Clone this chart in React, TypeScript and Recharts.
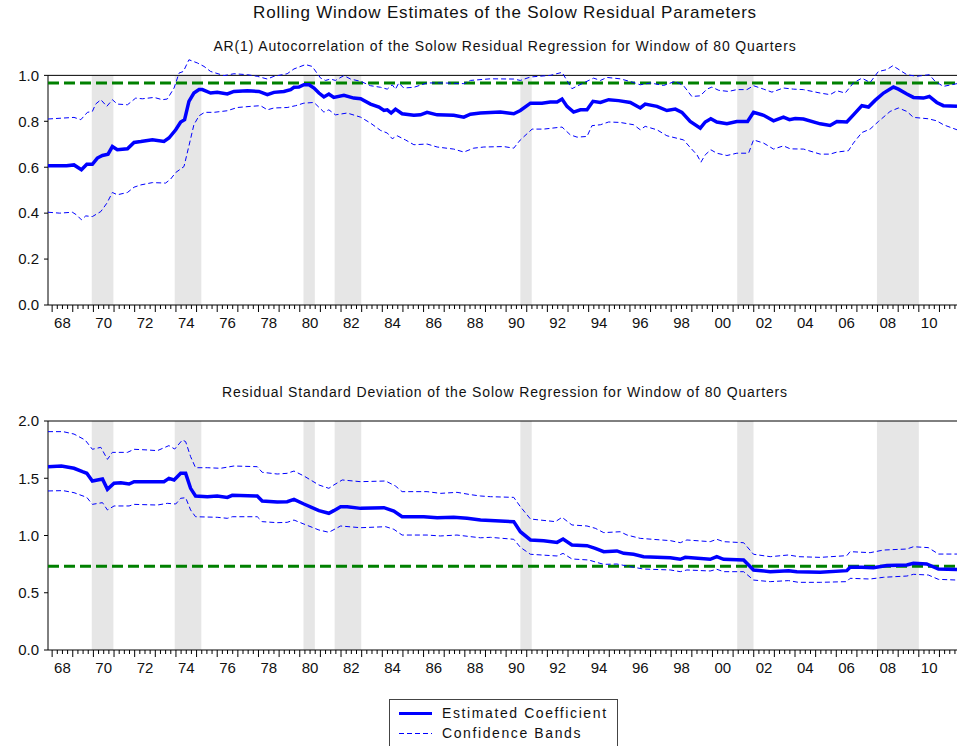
import { Line, LineChart, ReferenceArea, ReferenceLine, XAxis, YAxis } from "recharts";

const FONT = '"Liberation Sans", Arial, sans-serif';
const BLUE = "#0000ff";
const GREEN = "#008000";

const X_MIN = 1967.8;
const X_MAX = 2011.85;

// labelled years (shown as two digits, centred on mid-year)
const labelYears = [
  1968, 1970, 1972, 1974, 1976, 1978, 1980, 1982, 1984, 1986, 1988, 1990,
  1992, 1994, 1996, 1998, 2000, 2002, 2004, 2006, 2008, 2010,
];

// shaded recession periods [start, end]
const recessions: [number, number][] = [
  [1969.92, 1970.97],
  [1973.94, 1975.23],
  [1980.18, 1980.73],
  [1981.69, 1982.98],
  [1990.69, 1991.24],
  [2001.2, 2001.99],
  [2007.97, 2010.0],
];

// AR(1) coefficient panel
const arEst: [number, number][] = [
  [1967.8, 0.606], [1968.7, 0.606], [1969.06, 0.61], [1969.42, 0.589], [1969.68, 0.613], [1969.95, 0.613],
  [1970.19, 0.64], [1970.44, 0.651], [1970.71, 0.657], [1970.92, 0.69], [1971.16, 0.676], [1971.65, 0.68],
  [1971.97, 0.708], [1972.3, 0.712], [1972.86, 0.72], [1973.42, 0.712], [1973.66, 0.727], [1973.99, 0.763],
  [1974.23, 0.797], [1974.42, 0.807], [1974.63, 0.887], [1974.87, 0.923], [1975.12, 0.938], [1975.28, 0.938],
  [1975.68, 0.923], [1976.0, 0.926], [1976.49, 0.919], [1976.81, 0.93], [1977.46, 0.933], [1978.02, 0.93],
  [1978.43, 0.916], [1978.75, 0.926], [1979.23, 0.93], [1979.56, 0.938], [1979.72, 0.948], [1979.96, 0.949],
  [1980.2, 0.959], [1980.45, 0.959], [1980.69, 0.945], [1980.93, 0.923], [1981.17, 0.906], [1981.41, 0.919],
  [1981.65, 0.904], [1982.14, 0.913], [1982.62, 0.901], [1982.95, 0.898], [1983.43, 0.875], [1983.84, 0.862],
  [1984.08, 0.847], [1984.24, 0.85], [1984.43, 0.836], [1984.64, 0.853], [1984.96, 0.833], [1985.53, 0.826],
  [1985.85, 0.828], [1986.17, 0.839], [1986.66, 0.828], [1987.46, 0.826], [1987.95, 0.818], [1988.27, 0.831],
  [1988.75, 0.836], [1989.72, 0.84], [1990.37, 0.833], [1990.69, 0.847], [1991.18, 0.879], [1991.74, 0.879],
  [1992.14, 0.884], [1992.47, 0.884], [1992.71, 0.897], [1992.95, 0.865], [1993.27, 0.84], [1993.6, 0.85],
  [1993.92, 0.85], [1994.21, 0.887], [1994.57, 0.882], [1994.97, 0.894], [1995.45, 0.89], [1996.02, 0.882],
  [1996.5, 0.858], [1996.74, 0.875], [1997.31, 0.865], [1997.79, 0.847], [1998.2, 0.853], [1998.52, 0.839],
  [1998.92, 0.799], [1999.41, 0.77], [1999.65, 0.797], [1999.92, 0.811], [2000.21, 0.797], [2000.7, 0.789],
  [2001.18, 0.799], [2001.7, 0.799], [2001.99, 0.839], [2002.48, 0.826], [2002.96, 0.802], [2003.44, 0.818],
  [2003.73, 0.807], [2004.01, 0.812], [2004.41, 0.81], [2005.22, 0.789], [2005.7, 0.782], [2006.03, 0.799],
  [2006.51, 0.797], [2006.83, 0.828], [2007.24, 0.868], [2007.56, 0.862], [2007.88, 0.891], [2008.29, 0.923],
  [2008.77, 0.949], [2009.01, 0.94], [2009.42, 0.919], [2009.74, 0.904], [2010.22, 0.901], [2010.51, 0.908],
  [2010.87, 0.882], [2011.19, 0.868], [2011.85, 0.865],
];

const arHi: [number, number][] = [
  [1967.8, 0.81], [1969.06, 0.817], [1969.39, 0.807], [1969.71, 0.839], [1969.95, 0.843], [1970.11, 0.875],
  [1970.36, 0.894], [1970.65, 0.865], [1970.92, 0.894], [1971.16, 0.875], [1971.65, 0.872], [1972.05, 0.901],
  [1972.37, 0.898], [1972.94, 0.904], [1973.34, 0.894], [1973.58, 0.897], [1973.91, 0.945], [1974.15, 1.01],
  [1974.36, 1.017], [1974.63, 1.068], [1975.04, 1.054], [1975.36, 1.039], [1975.68, 1.017], [1976.33, 0.999],
  [1976.81, 1.007], [1977.46, 1.003], [1977.94, 0.996], [1978.43, 0.984], [1978.75, 0.996], [1979.39, 1.007],
  [1979.72, 1.028], [1980.28, 1.047], [1980.6, 1.039], [1981.01, 0.988], [1981.25, 0.978], [1981.49, 0.984],
  [1981.73, 0.978], [1982.14, 0.999], [1982.46, 0.984], [1982.95, 0.974], [1983.43, 0.955], [1983.92, 0.948],
  [1984.24, 0.94], [1984.48, 0.959], [1984.64, 0.94], [1984.8, 0.967], [1985.04, 0.945], [1985.53, 0.948],
  [1986.17, 0.967], [1986.98, 0.967], [1987.95, 0.964], [1988.27, 0.978], [1989.24, 0.985], [1990.37, 0.984],
  [1990.69, 0.978], [1991.18, 0.993], [1992.14, 1.0], [1992.71, 1.013], [1993.19, 0.942], [1993.68, 0.964],
  [1994.24, 0.988], [1994.57, 0.978], [1994.89, 0.991], [1995.53, 0.985], [1996.18, 0.969], [1996.5, 0.959],
  [1996.99, 0.967], [1997.63, 0.956], [1998.2, 0.974], [1998.6, 0.955], [1999.0, 0.908], [1999.41, 0.911],
  [1999.73, 0.94], [1999.97, 0.949], [2000.3, 0.935], [2000.78, 0.93], [2001.18, 0.938], [2001.67, 0.938],
  [2001.99, 0.955], [2002.48, 0.94], [2002.88, 0.927], [2003.44, 0.945], [2003.93, 0.94], [2004.41, 0.938],
  [2005.22, 0.923], [2005.7, 0.916], [2006.03, 0.933], [2006.43, 0.923], [2006.83, 0.967], [2007.24, 0.988],
  [2007.64, 0.969], [2008.04, 1.017], [2008.45, 1.025], [2008.74, 1.042], [2009.09, 1.022], [2009.42, 1.003],
  [2009.9, 0.996], [2010.51, 1.003], [2010.79, 0.974], [2011.19, 0.952], [2011.85, 0.964],
];

const arLo: [number, number][] = [
  [1967.8, 0.404], [1968.37, 0.4], [1968.98, 0.404], [1969.19, 0.392], [1969.42, 0.371], [1969.63, 0.388],
  [1969.95, 0.385], [1970.36, 0.407], [1970.65, 0.443], [1970.92, 0.49], [1971.16, 0.48], [1971.65, 0.49],
  [1971.97, 0.513], [1972.3, 0.523], [1972.86, 0.533], [1973.5, 0.531], [1973.74, 0.548], [1973.99, 0.577],
  [1974.39, 0.603], [1974.63, 0.693], [1974.87, 0.785], [1975.12, 0.824], [1975.39, 0.839], [1975.84, 0.839],
  [1976.49, 0.846], [1976.97, 0.86], [1977.62, 0.865], [1978.1, 0.868], [1978.43, 0.85], [1978.75, 0.858],
  [1979.39, 0.86], [1979.8, 0.868], [1980.2, 0.879], [1980.69, 0.882], [1981.17, 0.84], [1981.41, 0.85],
  [1981.73, 0.828], [1982.3, 0.836], [1982.95, 0.818], [1983.43, 0.792], [1983.92, 0.76], [1984.24, 0.749],
  [1984.48, 0.724], [1984.72, 0.737], [1985.12, 0.719], [1985.53, 0.698], [1986.17, 0.701], [1986.66, 0.688],
  [1987.46, 0.679], [1987.95, 0.666], [1988.43, 0.683], [1988.92, 0.688], [1989.88, 0.69], [1990.37, 0.683],
  [1990.69, 0.719], [1991.26, 0.766], [1991.82, 0.766], [1992.71, 0.775], [1993.11, 0.741], [1993.44, 0.731],
  [1993.92, 0.734], [1994.16, 0.781], [1994.57, 0.785], [1994.97, 0.797], [1995.53, 0.795], [1996.18, 0.785],
  [1996.5, 0.763], [1996.74, 0.778], [1997.31, 0.763], [1997.79, 0.737], [1998.6, 0.719], [1998.92, 0.686],
  [1999.25, 0.654], [1999.44, 0.622], [1999.65, 0.654], [1999.92, 0.676], [2000.21, 0.661], [2000.7, 0.651],
  [2001.18, 0.661], [2001.75, 0.661], [2001.99, 0.719], [2002.48, 0.705], [2002.96, 0.679], [2003.44, 0.693],
  [2003.77, 0.68], [2004.41, 0.679], [2005.22, 0.657], [2005.7, 0.657], [2006.03, 0.666], [2006.59, 0.672],
  [2006.83, 0.705], [2007.24, 0.751], [2007.64, 0.766], [2008.04, 0.799], [2008.61, 0.843], [2009.01, 0.858],
  [2009.42, 0.843], [2009.74, 0.817], [2010.46, 0.811], [2010.87, 0.802], [2011.19, 0.785], [2011.85, 0.763],
];

// residual standard deviation panel
const sdEst: [number, number][] = [
  [1967.8, 1.601], [1968.45, 1.607], [1969.06, 1.587], [1969.47, 1.557], [1969.68, 1.543], [1969.95, 1.476],
  [1970.44, 1.493], [1970.68, 1.403], [1971.0, 1.456], [1971.33, 1.461], [1971.73, 1.45], [1971.97, 1.47],
  [1973.1, 1.47], [1973.42, 1.47], [1973.66, 1.499], [1973.91, 1.485], [1974.23, 1.543], [1974.47, 1.543],
  [1974.71, 1.412], [1974.95, 1.345], [1975.52, 1.339], [1976.0, 1.345], [1976.49, 1.333], [1976.73, 1.351],
  [1977.94, 1.345], [1978.18, 1.301], [1978.91, 1.293], [1979.39, 1.295], [1979.72, 1.316], [1980.2, 1.275],
  [1980.93, 1.217], [1981.41, 1.194], [1981.65, 1.217], [1981.98, 1.252], [1982.3, 1.252], [1982.95, 1.237],
  [1984.08, 1.243], [1984.56, 1.214], [1984.96, 1.164], [1986.01, 1.164], [1986.66, 1.156], [1987.46, 1.159],
  [1988.11, 1.15], [1988.76, 1.135], [1989.24, 1.13], [1990.37, 1.121], [1990.69, 1.033], [1991.18, 0.961],
  [1991.82, 0.955], [1992.47, 0.94], [1992.76, 0.969], [1993.19, 0.917], [1993.92, 0.911], [1994.32, 0.888],
  [1994.73, 0.859], [1995.37, 0.865], [1995.7, 0.844], [1996.18, 0.836], [1996.66, 0.815], [1997.96, 0.806],
  [1998.44, 0.792], [1998.68, 0.809], [1999.89, 0.792], [2000.21, 0.815], [2000.54, 0.792], [2001.51, 0.786],
  [2001.99, 0.699], [2002.8, 0.684], [2003.69, 0.693], [2004.09, 0.684], [2005.22, 0.678], [2006.51, 0.693],
  [2006.67, 0.722], [2007.24, 0.722], [2007.8, 0.719], [2008.45, 0.737], [2009.42, 0.742], [2009.74, 0.757],
  [2010.38, 0.751], [2010.95, 0.707], [2011.85, 0.704],
];

const sdHi: [number, number][] = [
  [1967.8, 1.907], [1968.53, 1.907], [1969.06, 1.886], [1969.6, 1.834], [1969.95, 1.753], [1970.36, 1.77],
  [1970.68, 1.665], [1970.92, 1.726], [1971.65, 1.726], [1971.97, 1.753], [1972.62, 1.747], [1973.1, 1.741],
  [1973.66, 1.785], [1973.94, 1.755], [1974.31, 1.834], [1974.47, 1.82], [1974.71, 1.689], [1974.95, 1.592],
  [1975.52, 1.592], [1976.17, 1.587], [1976.81, 1.607], [1977.94, 1.601], [1978.18, 1.552], [1978.91, 1.537],
  [1979.39, 1.543], [1979.72, 1.563], [1980.2, 1.52], [1980.93, 1.441], [1981.41, 1.412], [1981.65, 1.441],
  [1982.06, 1.485], [1982.95, 1.47], [1984.16, 1.476], [1984.64, 1.432], [1984.96, 1.383], [1986.17, 1.383],
  [1986.82, 1.368], [1987.62, 1.377], [1988.27, 1.357], [1988.76, 1.345], [1989.24, 1.339], [1990.37, 1.333],
  [1990.69, 1.252], [1991.18, 1.144], [1992.39, 1.121], [1992.71, 1.159], [1993.19, 1.092], [1993.92, 1.083],
  [1994.32, 1.063], [1994.73, 1.025], [1995.53, 1.033], [1995.86, 1.004], [1996.5, 0.975], [1997.96, 0.955],
  [1998.44, 0.937], [1998.76, 0.961], [1999.89, 0.946], [2000.21, 0.967], [2000.54, 0.946], [2001.51, 0.937],
  [2001.99, 0.836], [2002.8, 0.815], [2003.69, 0.83], [2004.17, 0.815], [2005.22, 0.809], [2006.51, 0.824],
  [2006.67, 0.859], [2007.64, 0.85], [2008.29, 0.873], [2009.42, 0.882], [2009.74, 0.902], [2010.46, 0.894],
  [2010.95, 0.838], [2011.85, 0.838],
];

const sdLo: [number, number][] = [
  [1967.8, 1.389], [1968.53, 1.392], [1969.06, 1.374], [1969.68, 1.333], [1969.95, 1.272], [1970.44, 1.287],
  [1970.68, 1.223], [1971.0, 1.258], [1971.73, 1.258], [1971.97, 1.272], [1973.1, 1.266], [1973.58, 1.281],
  [1973.99, 1.275], [1974.23, 1.325], [1974.47, 1.33], [1974.71, 1.223], [1974.95, 1.164], [1976.0, 1.159],
  [1976.49, 1.15], [1976.73, 1.164], [1977.94, 1.164], [1978.18, 1.121], [1978.91, 1.112], [1979.39, 1.115],
  [1979.72, 1.135], [1980.2, 1.1], [1980.93, 1.048], [1981.41, 1.028], [1981.98, 1.083], [1982.95, 1.068],
  [1984.16, 1.077], [1984.56, 1.054], [1984.96, 1.004], [1986.17, 1.004], [1986.82, 0.996], [1987.62, 1.004],
  [1988.27, 0.99], [1988.76, 0.98], [1989.24, 0.984], [1990.37, 0.967], [1990.69, 0.897], [1991.18, 0.836],
  [1992.47, 0.821], [1992.76, 0.844], [1993.19, 0.795], [1994.0, 0.786], [1994.73, 0.748], [1995.37, 0.751],
  [1996.02, 0.728], [1996.66, 0.707], [1997.96, 0.699], [1998.44, 0.684], [1998.76, 0.699], [1999.89, 0.69],
  [2000.21, 0.705], [2000.54, 0.684], [2001.51, 0.684], [2001.99, 0.611], [2002.8, 0.597], [2003.69, 0.606],
  [2004.17, 0.591], [2005.22, 0.591], [2006.51, 0.597], [2006.67, 0.626], [2007.64, 0.62], [2008.29, 0.635],
  [2009.42, 0.646], [2009.74, 0.661], [2010.46, 0.655], [2010.95, 0.617], [2011.85, 0.611],
];

const arLevel = 0.967;
const sdLevel = 0.731;

const arTicks = [0, 0.2, 0.4, 0.6, 0.8, 1.0];
const sdTicks = [0, 0.5, 1.0, 1.5, 2.0];

// quarterly tick positions along the date axis
const quarterTicks: number[] = [];
for (let y = 1968; y <= 2011; y++) {
  for (let q = 0; q < 4; q++) quarterTicks.push(y + q * 0.25);
}

const toPts = (arr: [number, number][]) => arr.map(([t, v]) => ({ t, v }));

function QuarterTick(props: any) {
  const { x, y, payload } = props;
  const v: number = payload.value;
  const yr = Math.floor(v + 1e-6);
  const frac = v - yr;
  const isYear = frac < 1e-6;
  const showLabel = Math.abs(frac - 0.5) < 1e-6 && labelYears.includes(yr);
  return (
    <g>
      <line x1={x} x2={x} y1={y} y2={y + (isYear ? 7 : 4)} stroke="#000" />
      {showLabel && (
        <text x={x} y={y + 23} textAnchor="middle" fontSize={15} fontFamily={FONT} fill="#111">
          {String(yr).slice(2)}
        </text>
      )}
    </g>
  );
}

type PanelProps = {
  est: [number, number][];
  hi: [number, number][];
  lo: [number, number][];
  level: number;
  frameTop: number;
  yMax: number;
  yTicks: number[];
  marginTop: number;
  plotHeight: number;
};

function Panel({ est, hi, lo, level, frameTop, yMax, yTicks, marginTop, plotHeight }: PanelProps) {
  return (
    <LineChart
      width={957}
      height={marginTop + plotHeight + 30}
      margin={{ top: marginTop, right: 0, left: 0, bottom: 0 }}
    >
      <XAxis
        dataKey="t"
        type="number"
        domain={[X_MIN, X_MAX]}
        ticks={quarterTicks}
        interval={0}
        allowDataOverflow
        height={30}
        tickSize={0}
        tickMargin={0}
        tick={<QuarterTick />}
        axisLine={{ stroke: "#000" }}
      />
      <YAxis
        type="number"
        domain={[0, yMax]}
        ticks={yTicks}
        allowDataOverflow
        width={48}
        tickSize={4}
        tickMargin={5}
        axisLine={false}
        tickLine={{ stroke: "#000" }}
        tickFormatter={(v: number) => v.toFixed(1)}
        tick={{ fontSize: 15, fontFamily: FONT, fill: "#111" }}
      />
      {recessions.map(([a, b], i) => (
        <ReferenceArea key={i} x1={a} x2={b} y1={0} y2={frameTop} fill="#e6e6e6" fillOpacity={1} stroke="none" />
      ))}
      <ReferenceLine y={frameTop} stroke="#000" strokeWidth={1} />
      <ReferenceLine
        segment={[{ x: X_MIN, y: 0 }, { x: X_MIN, y: frameTop }]}
        stroke="#000"
        strokeWidth={1}
      />
      <ReferenceLine y={level} stroke={GREEN} strokeWidth={3} strokeDasharray="11 5" />
      <Line data={toPts(hi)} dataKey="v" stroke={BLUE} strokeWidth={1} strokeDasharray="5 3" dot={false} activeDot={false} isAnimationActive={false} />
      <Line data={toPts(lo)} dataKey="v" stroke={BLUE} strokeWidth={1} strokeDasharray="5 3" dot={false} activeDot={false} isAnimationActive={false} />
      <Line data={toPts(est)} dataKey="v" stroke={BLUE} strokeWidth={3.5} dot={false} activeDot={false} isAnimationActive={false} />
    </LineChart>
  );
}

const textBase = {
  position: "absolute" as const,
  left: 505,
  transform: "translateX(-50%)",
  whiteSpace: "nowrap" as const,
  fontFamily: FONT,
  color: "#111",
  lineHeight: 1,
};

export default function App() {
  return (
    <div style={{ position: "absolute", left: 0, top: 0, width: 957, height: 746, background: "#fff", overflow: "hidden" }}>
      <div style={{ ...textBase, top: 4, fontSize: 17, letterSpacing: 0.8 }}>
        Rolling Window Estimates of the Solow Residual Parameters
      </div>
      <div style={{ ...textBase, top: 39, fontSize: 14, letterSpacing: 0.85 }}>
        AR(1) Autocorrelation of the Solow Residual Regression for Window of 80 Quarters
      </div>
      <div style={{ ...textBase, top: 385, fontSize: 14, letterSpacing: 0.85 }}>
        Residual Standard Deviation of the Solow Regression for Window of 80 Quarters
      </div>

      <div style={{ position: "absolute", left: 0, top: 0 }}>
        <Panel est={arEst} hi={arHi} lo={arLo} level={arLevel} frameTop={1} yMax={1.08} yTicks={arTicks} marginTop={57} plotHeight={248} />
      </div>
      <div style={{ position: "absolute", left: 0, top: 340 }}>
        <Panel est={sdEst} hi={sdHi} lo={sdLo} level={sdLevel} frameTop={2} yMax={2} yTicks={sdTicks} marginTop={81} plotHeight={229} />
      </div>

      <div
        style={{
          position: "absolute",
          left: 389,
          top: 699,
          width: 229,
          height: 60,
          border: "1px solid #444",
          boxSizing: "border-box",
          fontFamily: FONT,
          fontSize: 14,
          letterSpacing: 1.6,
          color: "#111",
        }}
      >
        <svg style={{ position: "absolute", left: 0, top: 0 }} width={50} height={45}>
          <line x1={9} x2={42} y1={13.5} y2={13.5} stroke={BLUE} strokeWidth={3} />
          <line x1={9} x2={42} y1={33.5} y2={33.5} stroke={BLUE} strokeWidth={1} strokeDasharray="5 3" />
        </svg>
        <div style={{ position: "absolute", left: 52, top: 6, lineHeight: 1 }}>Estimated Coefficient</div>
        <div style={{ position: "absolute", left: 52, top: 26, lineHeight: 1 }}>Confidence Bands</div>
      </div>
    </div>
  );
}
